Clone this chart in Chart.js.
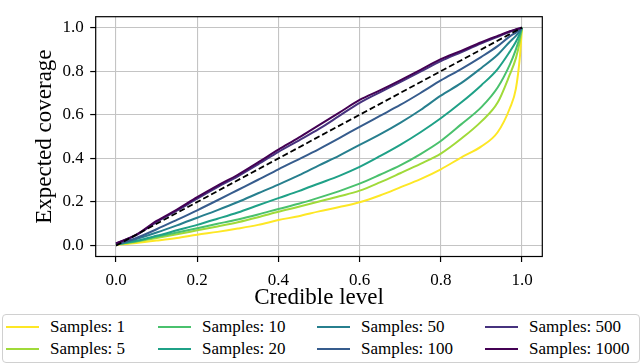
<!DOCTYPE html>
<html>
<head>
<meta charset="utf-8">
<script src="https://cdn.jsdelivr.net/npm/chart.js@4.4.0/dist/chart.umd.min.js"></script>
<style>
  body { margin: 0; background: #fff; }
  #wrap { position: relative; width: 640px; height: 364px; }
  #legend {
    position: absolute; left: 2px; top: 314px; width: 633px; height: 46px;
    border: 1px solid #d0d0d0; border-radius: 4px; background: #fff;
    display: grid; grid-template-columns: 152px 159px 168px auto;
    grid-template-rows: 22px 22px; grid-auto-flow: column;
    padding-top: 1px; padding-left: 3px; box-sizing: content-box;
    font-family: "Liberation Serif", "Times New Roman", serif; font-size: 17px; color: #000;
  }
  .item { display: flex; align-items: center; white-space: nowrap; }
  .swatch { width: 33px; height: 2px; margin-right: 11px; }
</style>
</head>
<body>
<div id="wrap">
  <canvas id="chart" width="640" height="364"></canvas>
  <div id="legend"></div>
</div>
<script>
// credible levels (x) shared by all curves
const levels = [0, 0.05, 0.1, 0.15, 0.2, 0.25, 0.3, 0.35, 0.4, 0.45, 0.5, 0.55, 0.6, 0.65, 0.7, 0.75, 0.8, 0.85, 0.9, 0.94, 0.97, 0.985, 0.995, 1.0];

// expected coverage per number of samples
const cov1 = [0.003, 0.012, 0.023, 0.035, 0.05, 0.063, 0.078, 0.095, 0.117, 0.135, 0.157, 0.177, 0.199, 0.23, 0.267, 0.305, 0.35, 0.404, 0.455, 0.52, 0.63, 0.72, 0.87, 1.0];
const cov5 = [0.005, 0.018, 0.035, 0.052, 0.07, 0.088, 0.107, 0.13, 0.155, 0.178, 0.202, 0.226, 0.252, 0.29, 0.332, 0.375, 0.422, 0.49, 0.57, 0.656, 0.785, 0.86, 0.94, 1.0];
const cov10 = [0.005, 0.02, 0.04, 0.06, 0.08, 0.1, 0.12, 0.143, 0.168, 0.192, 0.22, 0.25, 0.284, 0.325, 0.368, 0.42, 0.48, 0.556, 0.635, 0.725, 0.83, 0.9, 0.96, 1.0];
const cov20 = [0.005, 0.022, 0.045, 0.07, 0.095, 0.123, 0.152, 0.185, 0.218, 0.25, 0.285, 0.32, 0.361, 0.41, 0.462, 0.52, 0.584, 0.656, 0.736, 0.81, 0.89, 0.935, 0.975, 1.0];
const cov50 = [0.005, 0.03, 0.06, 0.093, 0.128, 0.163, 0.2, 0.24, 0.28, 0.322, 0.368, 0.413, 0.462, 0.51, 0.563, 0.622, 0.688, 0.745, 0.815, 0.875, 0.935, 0.962, 0.985, 1.0];
const cov100 = [0.005, 0.035, 0.075, 0.118, 0.162, 0.208, 0.255, 0.302, 0.35, 0.396, 0.443, 0.493, 0.545, 0.595, 0.645, 0.7, 0.758, 0.81, 0.866, 0.915, 0.96, 0.977, 0.99, 1.0];
const cov500 = [0.01, 0.048, 0.108, 0.16, 0.215, 0.268, 0.318, 0.373, 0.43, 0.482, 0.535, 0.595, 0.655, 0.703, 0.75, 0.798, 0.846, 0.887, 0.928, 0.958, 0.981, 0.991, 0.997, 1.0];
const cov1000 = [0.01, 0.05, 0.113, 0.165, 0.222, 0.275, 0.325, 0.382, 0.44, 0.495, 0.553, 0.61, 0.668, 0.712, 0.758, 0.806, 0.855, 0.893, 0.933, 0.962, 0.983, 0.992, 0.997, 1.0];

const sampleCounts = [1, 5, 10, 20, 50, 100, 500, 1000];
const coverages = [cov1, cov5, cov10, cov20, cov50, cov100, cov500, cov1000];
const colors = ['#fde725', '#a0da39', '#4ac16d', '#1fa187', '#277f8e', '#365c8d', '#46327e', '#440154'];

// ideal calibration diagonal
const idealX = [0, 1];
const idealY = [0, 1];

const tickValues = [0, 0.2, 0.4, 0.6, 0.8, 1.0];

const serif = '"Liberation Serif", "Times New Roman", serif';

const datasets = sampleCounts.map((n, i) => ({
  label: 'Samples: ' + n,
  data: levels.map((x, j) => ({ x: x, y: coverages[i][j] })),
  borderColor: colors[i],
  borderWidth: 2,
  pointRadius: 0,
  fill: false,
  cubicInterpolationMode: 'monotone',
  order: sampleCounts.length - i
}));

datasets.push({
  label: 'ideal',
  data: idealX.map((x, j) => ({ x: x, y: idealY[j] })),
  borderColor: '#000',
  borderWidth: 1.8,
  borderDash: [6, 3],
  pointRadius: 0,
  fill: false,
  order: 0
});

// black frame around the plot area
const frame = {
  id: 'frame',
  afterDatasetsDraw(chart) {
    const a = chart.chartArea;
    const ctx = chart.ctx;
    ctx.save();
    ctx.strokeStyle = '#000';
    ctx.lineWidth = 1.2;
    ctx.strokeRect(a.left, a.top, a.right - a.left, a.bottom - a.top);
    ctx.restore();
  }
};

const setTicks = scale => { scale.ticks = tickValues.map(v => ({ value: v })); };

new Chart(document.getElementById('chart'), {
  type: 'line',
  data: { datasets },
  plugins: [frame],
  options: {
    responsive: false,
    animation: false,
    layout: { padding: { top: 2.5, right: 97.7, left: 0, bottom: 0 } },
    plugins: { legend: { display: false }, tooltip: { enabled: false } },
    scales: {
      x: {
        type: 'linear',
        min: -0.05,
        max: 1.05,
        afterBuildTicks: setTicks,
        afterFit: s => { s.height = 107.5; },
        grid: { color: '#c4c4c4', lineWidth: 1.1, tickLength: 5.5, tickColor: '#000', tickWidth: 1.2 },
        border: { display: false },
        ticks: {
          padding: 8,
          color: '#000',
          font: { family: serif, size: 17 },
          callback: v => v.toFixed(1),
          maxRotation: 0
        },
        title: {
          display: true,
          text: 'Credible level',
          color: '#000',
          font: { family: serif, size: 23 },
          padding: { top: 0, bottom: 52 }
        }
      },
      y: {
        type: 'linear',
        min: -0.05,
        max: 1.05,
        afterBuildTicks: setTicks,
        afterFit: s => { s.width = 95.7; },
        grid: { color: '#c4c4c4', lineWidth: 1.1, tickLength: 5.5, tickColor: '#000', tickWidth: 1.2 },
        border: { display: false },
        ticks: {
          padding: 6.5,
          color: '#000',
          font: { family: serif, size: 17 },
          callback: v => v.toFixed(1)
        },
        title: {
          display: true,
          text: 'Expected coverage',
          color: '#000',
          font: { family: serif, size: 23 },
          padding: { top: 31, bottom: 0 }
        }
      }
    }
  }
});

// legend in 4 columns, filled column by column
const legend = document.getElementById('legend');
sampleCounts.forEach((n, i) => {
  const item = document.createElement('div');
  item.className = 'item';
  item.innerHTML = '<span class="swatch" style="background:' + colors[i] + '"></span>Samples: ' + n;
  legend.appendChild(item);
});
</script>
</body>
</html>
